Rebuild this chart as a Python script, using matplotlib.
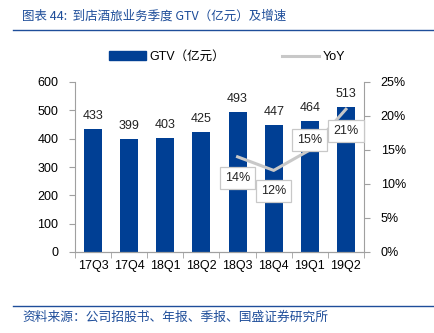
import matplotlib
matplotlib.use('Agg')
import matplotlib.pyplot as plt
from matplotlib.lines import Line2D
from matplotlib.patches import Patch

plt.rcParams['font.family'] = ['Liberation Sans', 'Noto Sans CJK SC']

quarters = ['17Q3', '17Q4', '18Q1', '18Q2', '18Q3', '18Q4', '19Q1', '19Q2']
gtv = [433, 399, 403, 425, 493, 447, 464, 513]
yoy_quarters = ['18Q3', '18Q4', '19Q1', '19Q2']
yoy = [14, 12, 15, 21]
yoy_offsets = [-15, -15, 7, -16]  # label offset in points

BAR_COLOR = '#003f94'
LINE_COLOR = '#c8c8c8'
TITLE_COLOR = '#1f4e9a'
AX_COLOR = '#a0a0a0'
FS = 9

fig = plt.figure(figsize=(4.35, 3.33), dpi=100)
ax = fig.add_axes([75 / 435, 81 / 333, 289 / 435, 170 / 333])
ax2 = ax.twinx()

x = list(range(len(quarters)))
ax.bar(x, gtv, width=0.5, color=BAR_COLOR, zorder=2)
for xi, v in zip(x, gtv):
    ax.annotate(str(v), (xi, v), xytext=(0, 5), textcoords='offset points',
                ha='center', va='bottom', fontsize=FS, color='#222222')

ax.set_xlim(-0.5, len(quarters) - 0.5)
ax.set_ylim(0, 600)
ax.set_yticks(range(0, 601, 100))
ax.set_xticks(x)
ax.set_xticklabels(quarters)
ax.set_xticks([i + 0.5 for i in range(-1, len(quarters))], minor=True)
ax.tick_params(axis='x', which='major', length=0, pad=6, labelsize=FS)
ax.tick_params(axis='x', which='minor', length=4, color=AX_COLOR)
ax.tick_params(axis='y', length=4, color=AX_COLOR, labelsize=FS, pad=8)

yx = [quarters.index(q) for q in yoy_quarters]
ax2.plot(yx, yoy, color=LINE_COLOR, lw=2.2, zorder=3)
for xi, v, off in zip(yx, yoy, yoy_offsets):
    ax2.annotate(f'{v}%', (xi, v), xytext=(0, off), textcoords='offset points',
                 ha='center', va='center', fontsize=FS, color='#222222',
                 bbox=dict(boxstyle='square,pad=0.4', fc='white', ec='#c8c8c8', lw=0.9),
                 zorder=4)
ax2.set_ylim(0, 25)
ax2.set_yticks(range(0, 26, 5))
ax2.set_yticklabels([f'{t}%' for t in range(0, 26, 5)])
ax2.tick_params(axis='y', length=4, color=AX_COLOR, labelsize=FS, pad=8)

for a in (ax, ax2):
    a.spines['top'].set_visible(False)
    for s in ('left', 'right', 'bottom'):
        a.spines[s].set_color(AX_COLOR)
ax.spines['right'].set_visible(False)
ax2.spines['left'].set_visible(False)

handles = [Patch(color=BAR_COLOR), Line2D([], [], color=LINE_COLOR, lw=2.2)]
fig.legend(handles, ['GTV（亿元）', 'YoY'], loc='center', bbox_to_anchor=(227 / 435, 1 - 57 / 333),
           ncol=2, frameon=False, fontsize=FS, handlelength=3.0, handletextpad=0.3,
           columnspacing=4.5)

fig.text(22 / 435, 1 - 16 / 333, '图表 44:  到店酒旅业务季度 GTV（亿元）及增速', fontsize=9,
         color=TITLE_COLOR, style='italic', va='center',
         family=['Noto Sans CJK SC', 'DejaVu Sans'])
fig.add_artist(Line2D([13 / 435, 1], [1 - 30 / 333] * 2, color=TITLE_COLOR, lw=1))
fig.add_artist(Line2D([13 / 435, 1], [1 - 306 / 333] * 2, color=TITLE_COLOR, lw=1))
fig.text(22 / 435, 1 - 317 / 333, '资料来源：公司招股书、年报、季报、国盛证券研究所', fontsize=9.2,
         color=TITLE_COLOR, style='italic', va='center',
         family=['Noto Sans CJK SC', 'DejaVu Sans'])

fig.savefig('out.png', dpi=100)
